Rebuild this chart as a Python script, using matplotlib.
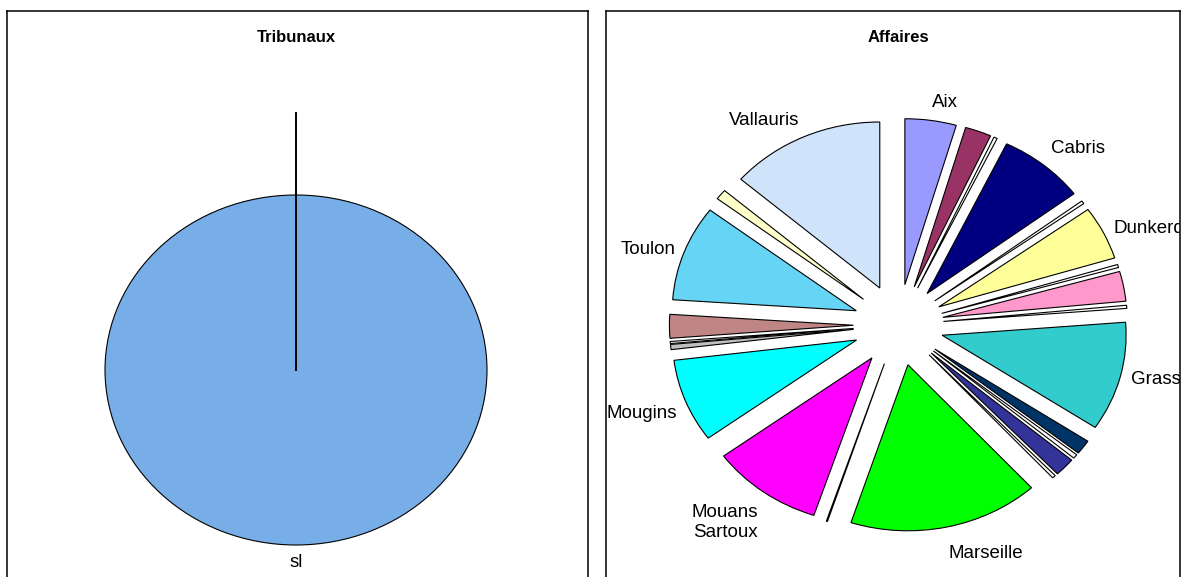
import numpy as np
import matplotlib
matplotlib.use("Agg")
import matplotlib.pyplot as plt
from matplotlib.transforms import blended_transform_factory

plt.rcParams['font.family'] = ['Liberation Sans', 'DejaVu Sans']

# --- data -------------------------------------------------------------
tribunaux_labels = ["sl"]
tribunaux_values = [100.0]

affaires_labels = ["Aix", "", "", "Cabris", "", "Dunkerque", "", "", "",
                   "Grasse", "", "", "", "", "Marseille", "",
                   "Mouans\nSartoux", "Mougins", "", "", "", "Toulon", "",
                   "Vallauris"]
affaires_values = [4.5, 2.3, 0.3, 7.6, 0.3, 5.2, 0.3, 2.9, 0.3,
                   10.6, 1.4, 0.4, 1.8, 0.3, 16.7, 0.1,
                   9.8, 8.1, 0.5, 0.2, 2.3, 9.3, 1.0,
                   13.6]

# --- styles -----------------------------------------------------------
tribunaux_colors = ["#78AEE8"]
affaires_colors = ["#9999FF", "#993366", "#FFFFFF", "#000080", "#FFFFFF",
                   "#FFFF99", "#FFFFFF", "#FF99CC", "#FFFFFF", "#33CCCC",
                   "#003366", "#FFFFFF", "#333399", "#FFFFFF", "#00FF00",
                   "#FFFFFF", "#FF00FF", "#00FFFF", "#C0C0C0", "#FFFFFF",
                   "#C08585", "#66D4F5", "#FFFFCC", "#CFE4FA"]

W, H = 1193, 577
fig = plt.figure(figsize=(W / 100, H / 100), dpi=100)
fig.patch.set_facecolor("white")


def panel_axes(left, right, top):
    """Axes in pixel units, extending to the bottom of the figure."""
    return fig.add_axes([left / W, 0, (right - left) / W, 1 - top / H])


def place_labels(ax, wedges, labels, pad=1.06, size=13.5, drop=6):
    """Put each label just outside its slice, anchored on the side facing it."""
    for w, lab in zip(wedges, labels):
        if not lab:
            continue
        ang = np.deg2rad(0.5 * (w.theta1 + w.theta2))
        cx, cy = w.center
        c, s = np.cos(ang), np.sin(ang)
        k = pad - 0.01 if c < -0.1 else pad
        x = cx + w.r * k * c
        y = cy + w.r * k * s
        ha = "left" if c > 0.1 else ("right" if c < -0.1 else "center")
        if s > 0.5:
            va, dy = "bottom", 0
        elif s < -0.3:
            va, dy = "top", -drop * s * s
        else:
            va, dy = "center", 0
        ax.annotate(lab, xy=(x, y), xytext=(0, dy),
                    textcoords="offset points", ha=ha, va=va,
                    fontsize=size, multialignment="center",
                    color="black", clip_on=True)


def style_panel(ax, xlim, ylim, title):
    ax.set_aspect("auto")
    ax.set_xlim(*xlim)
    ax.set_ylim(*ylim)
    ax.set_frame_on(True)
    for side, sp in ax.spines.items():
        sp.set_linewidth(1.1)
        sp.set_color("black")
    ax.spines["bottom"].set_visible(False)
    ax.set_xticks([])
    ax.set_yticks([])
    tr = blended_transform_factory(ax.transData, ax.transAxes)
    ax.text(0, 1 - 27 / 566, title, transform=tr, ha="center", va="center",
            fontsize=12, fontweight="bold")


# --- left panel: Tribunaux -------------------------------------------
ax1 = panel_axes(7, 588, 11)
w1, _ = ax1.pie(tribunaux_values, colors=tribunaux_colors, startangle=90,
                counterclock=False,
                wedgeprops=dict(edgecolor="black", linewidth=0.8))
# radial edge of the single slice
ax1.plot([0, 0], [0, 1.47], color="black", linewidth=1.4)
px1, cx1, cy1 = 191.0, 296.0, 370.0
style_panel(ax1, ((7 - cx1) / px1, (588 - cx1) / px1),
            (-(577 - cy1) / 175.0, (cy1 - 11) / 175.0), "Tribunaux")
place_labels(ax1, w1, tribunaux_labels, pad=1.05, drop=0)

# --- right panel: Affaires --------------------------------------------
ax2 = panel_axes(606, 1180, 11)
w2, _ = ax2.pie(affaires_values, colors=affaires_colors, startangle=90,
                counterclock=False, explode=[0.245] * len(affaires_values),
                wedgeprops=dict(edgecolor="black", linewidth=0.8))
cx2, cy2 = 898.5, 325.0
style_panel(ax2, ((606 - cx2) / 184.0, (1180 - cx2) / 184.0),
            (-(577 - cy2) / 166.0, (cy2 - 11) / 166.0), "Affaires")
place_labels(ax2, w2, affaires_labels, pad=1.06)

fig.savefig("out.png", dpi=100, facecolor="white")
